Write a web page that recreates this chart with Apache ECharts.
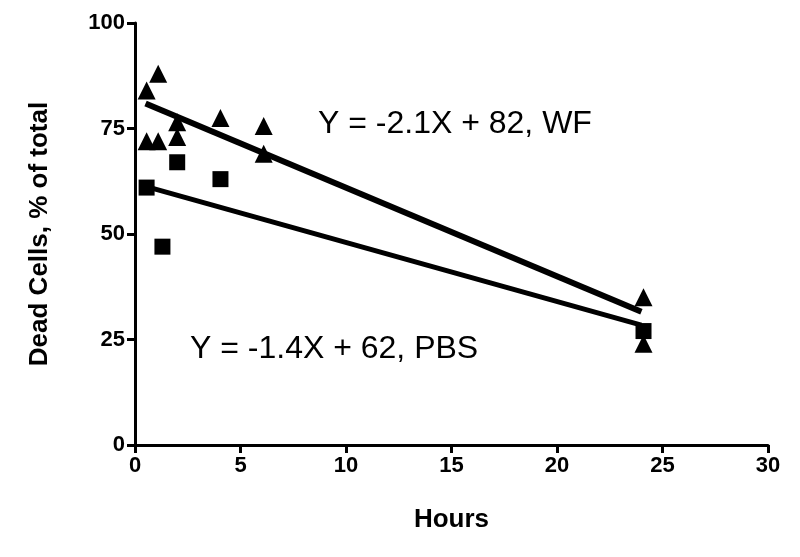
<!DOCTYPE html>
<html>
<head>
<meta charset="utf-8">
<script src="https://cdn.jsdelivr.net/npm/echarts@6/dist/echarts.min.js"></script>
<style>html,body{margin:0;padding:0;background:#fff}#chart{width:800px;height:557px}</style>
</head>
<body>
<div id="chart"></div>
<script>
// WF (triangles) and PBS (squares) data, [hours, % dead]
var wfPoints = [[0.55, 84], [1.1, 88], [0.55, 72], [1.1, 72], [2, 76.5], [2, 73], [4.05, 77.5], [6.1, 75.6], [6.1, 69], [24.1, 35], [24.1, 24]];
var pbsPoints = [[0.55, 61], [1.3, 47], [2, 67], [4.05, 63], [24.1, 27]];
var wfFit = [[0.5, 80.95], [24, 31.6]];
var pbsFit = [[0.5, 61.3], [24, 28.4]];
var xTicks = [0, 5, 10, 15, 20, 25, 30];
var yTicks = [0, 25, 50, 75, 100];

var chart = echarts.init(document.getElementById('chart'));
function axisBase() {
    return {
        axisLine: {lineStyle: {color: '#000', width: 3}},
        axisTick: {show: true, inside: false, length: 8, lineStyle: {color: '#000', width: 3}},
        axisLabel: {color: '#000', fontFamily: 'Liberation Sans', fontWeight: 'bold', fontSize: 22, margin: 10},
        splitLine: {show: false},
        nameTextStyle: {color: '#000', fontFamily: 'Liberation Sans', fontWeight: 'bold', fontSize: 26}
    };
}
chart.setOption({
    backgroundColor: '#fff',
    animation: false,
    grid: {left: 135, right: 32, top: 23, bottom: 112},
    xAxis: Object.assign(axisBase(), {
        type: 'value', min: xTicks[0], max: xTicks[xTicks.length - 1], interval: 5,
        name: 'Hours', nameLocation: 'middle', nameGap: 62
    }),
    yAxis: Object.assign(axisBase(), {
        type: 'value', min: yTicks[0], max: yTicks[yTicks.length - 1], interval: 25,
        name: 'Dead Cells, % of total', nameLocation: 'middle', nameGap: 82
    }),
    series: [
        {type: 'scatter', data: wfPoints, symbol: 'triangle', symbolSize: 18, itemStyle: {color: '#000', opacity: 1}},
        {type: 'scatter', data: pbsPoints, symbol: 'rect', symbolSize: 16, itemStyle: {color: '#000', opacity: 1}},
        {type: 'line', data: wfFit, symbol: 'none', lineStyle: {color: '#000', width: 6}},
        {type: 'line', data: pbsFit, symbol: 'none', lineStyle: {color: '#000', width: 5}}
    ],
    graphic: [
        {type: 'text', left: 318, top: 108, style: {text: 'Y = -2.1X + 82, WF', fill: '#000', font: '32px "Liberation Sans"'}},
        {type: 'text', left: 190, top: 333, style: {text: 'Y = -1.4X + 62, PBS', fill: '#000', font: '32px "Liberation Sans"'}}
    ]
});
</script>
</body>
</html>
